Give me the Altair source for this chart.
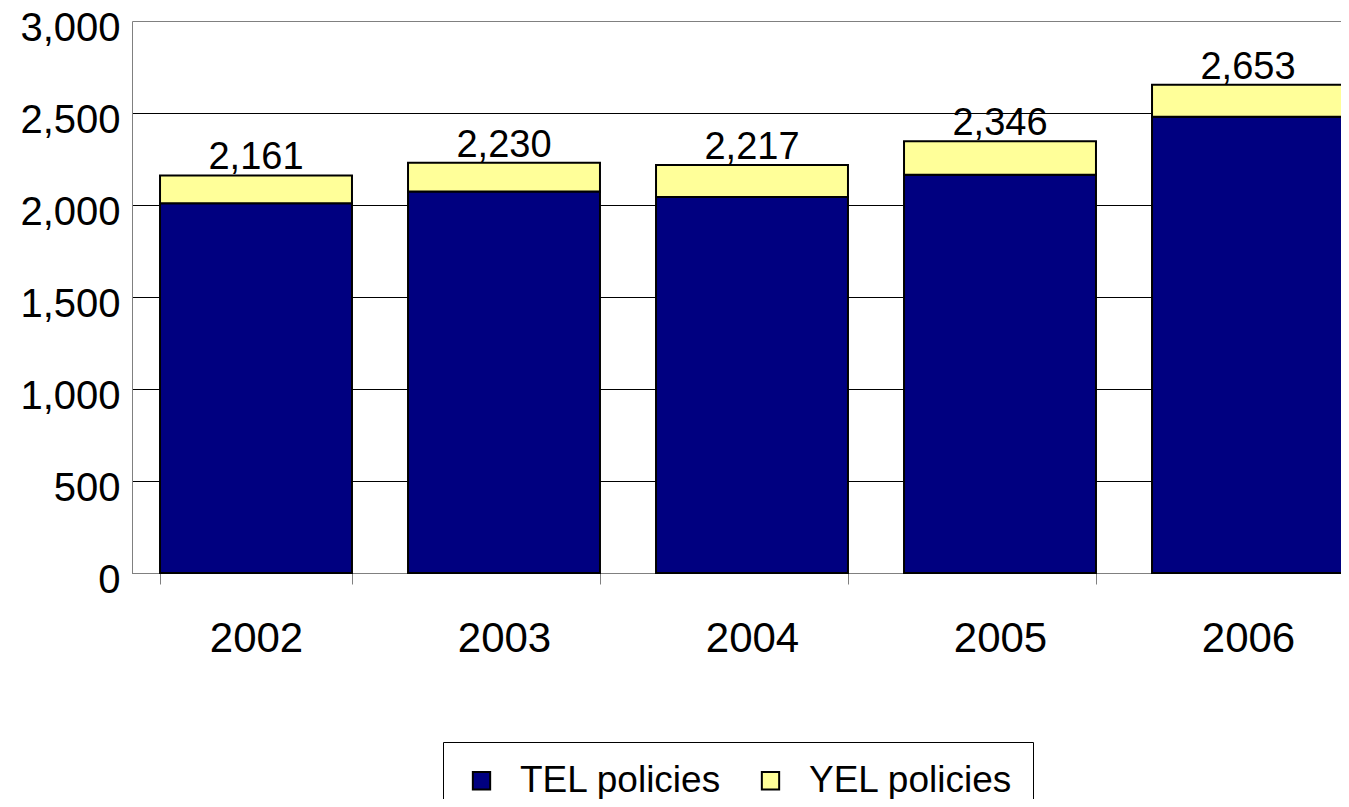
import altair as alt
import pandas as pd

YEARS = ["2002", "2003", "2004", "2005", "2006"]
TEL = [2009, 2073, 2043, 2165, 2479]
YEL = [152, 157, 174, 181, 174]
TOTAL = [2161, 2230, 2217, 2346, 2653]
SERIES = ["TEL policies", "YEL policies"]
COLORS = ["#000080", "#FFFF99"]
Y_TICKS = [0, 500, 1000, 1500, 2000, 2500, 3000]

FONT = "Liberation Sans"

rows = []
for yr, t, v in zip(YEARS, TEL, YEL):
    rows.append({"year": yr, "series": SERIES[0], "value": t, "order": 0})
    rows.append({"year": yr, "series": SERIES[1], "value": v, "order": 1})
df = pd.DataFrame(rows)
tot = pd.DataFrame({"year": YEARS, "total": TOTAL})

xscale = alt.Scale(range=[0, 1240], paddingInner=0.226, paddingOuter=0.113)
yscale = alt.Scale(domain=[0, 3000])

x_enc = alt.X(
    "year:N",
    title=None,
    sort=YEARS,
    scale=xscale,
    axis=alt.Axis(
        labelAngle=0,
        labelFont=FONT,
        labelFontSize=42,
        labelColor="black",
        labelPadding=34,
        tickBand="extent",
        tickSize=11,
        tickColor="#808080",
        domainColor="#808080",
        grid=False,
    ),
)

y_enc = alt.Y(
    "value:Q",
    title=None,
    stack="zero",
    scale=yscale,
    axis=alt.Axis(
        values=Y_TICKS,
        format=",d",
        labelFont=FONT,
        labelFontSize=40,
        labelColor="black",
        labelPadding=12,
        labelOffset=7,
        labelFlush=False,
        ticks=False,
        domainColor="#808080",
        grid=True,
        gridColor={"condition": {"test": "datum.value == 3000", "value": "#808080"}, "value": "#000000"},
        gridWidth=1,
    ),
)

bars = alt.Chart(df).mark_bar(stroke="black", strokeWidth=2).encode(
    x=x_enc,
    y=y_enc,
    order=alt.Order("order:Q"),
    color=alt.Color(
        "series:N",
        scale=alt.Scale(domain=SERIES, range=COLORS),
        legend=alt.Legend(
            title=None,
            orient="none",
            legendX=311,
            legendY=721,
            direction="horizontal",
            symbolType="square",
            symbolSize=300,
            symbolStrokeColor="black",
            symbolStrokeWidth=2,
            symbolOpacity=1,
            labelFont=FONT,
            labelFontSize=37,
            labelColor="black",
            labelLimit=0,
            labelOffset=20,
            columnPadding=30,
            padding=20,
            strokeColor="black",
            fillColor="white",
        ),
    ),
)

labels = alt.Chart(tot).mark_text(
    baseline="alphabetic", dy=-6, font=FONT, fontSize=38, color="black"
).encode(
    x=alt.X("year:N", sort=YEARS, scale=xscale),
    y=alt.Y("total:Q", scale=yscale),
    text=alt.Text("total:Q", format=",d"),
)

chart = alt.layer(bars, labels).properties(
    width=1209,
    height=552,
    autosize=alt.AutoSizeParams(type="none"),
    padding={"left": 124, "top": 13, "right": 0, "bottom": 226},
    background="white",
).configure_view(strokeWidth=0)

chart.save("out.html", embed_options={"renderer": "svg", "actions": False})
